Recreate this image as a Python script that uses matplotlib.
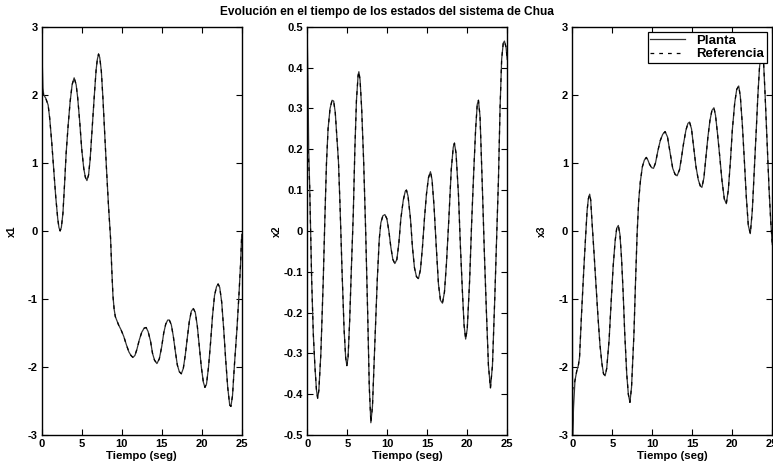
import numpy as np
import matplotlib
matplotlib.use('Agg')
import matplotlib.pyplot as plt

plt.rcParams['font.family'] = ['Liberation Sans', 'DejaVu Sans']
plt.rcParams['font.weight'] = 'bold'
plt.rcParams['axes.unicode_minus'] = False

# x1 - referencia (tiempo, valor)
t1 = [0.0, 0.25, 0.5, 0.8, 1.0, 1.25, 1.5, 1.75, 2.0, 2.15, 2.3, 2.45, 2.65, 2.85, 3.05, 3.3,
      3.55, 3.8, 4.05, 4.3, 4.5, 4.75, 5.0, 5.25, 5.45, 5.65, 5.85, 6.05, 6.3, 6.55, 6.8, 6.95,
      7.1, 7.25, 7.45, 7.65, 7.85, 8.1, 8.35, 8.6, 8.75, 8.9, 9.05, 9.2, 9.6, 9.9, 10.25, 10.6,
      10.9, 11.15, 11.4, 11.65, 11.9, 12.2, 12.5, 12.8, 13.05, 13.3, 13.6, 13.85, 14.1, 14.4,
      14.7, 15.0, 15.25, 15.5, 15.75, 15.95, 16.2, 16.45, 16.7, 16.95, 17.2, 17.45, 17.7, 17.95,
      18.2, 18.45, 18.7, 18.95, 19.2, 19.45, 19.7, 19.95, 20.2, 20.4, 20.6, 20.85, 21.1, 21.35,
      21.6, 21.85, 22.05, 22.25, 22.5, 22.75, 23.0, 23.25, 23.5, 23.65, 23.85, 24.1, 24.4,
      24.65, 24.85, 25.0]
x1 = [2.05, 2.0, 1.95, 1.85, 1.65, 1.3, 0.9, 0.5, 0.18, 0.05, 0.0, 0.05, 0.26, 0.68, 1.14, 1.55,
      1.9, 2.15, 2.25, 2.15, 1.95, 1.6, 1.2, 0.92, 0.79, 0.74, 0.82, 1.05, 1.5, 1.95, 2.37, 2.52,
      2.6, 2.55, 2.35, 1.95, 1.48, 0.9, 0.36, -0.1, -0.55, -0.95, -1.15, -1.26, -1.38, -1.45,
      -1.55, -1.68, -1.78, -1.83, -1.86, -1.83, -1.74, -1.6, -1.49, -1.43, -1.42, -1.48, -1.62,
      -1.8, -1.9, -1.95, -1.88, -1.7, -1.5, -1.37, -1.31, -1.31, -1.38, -1.55, -1.77, -1.97,
      -2.07, -2.1, -2.02, -1.82, -1.57, -1.33, -1.18, -1.14, -1.2, -1.4, -1.7, -2.0, -2.22, -2.3,
      -2.25, -2.0, -1.65, -1.25, -0.95, -0.82, -0.78, -0.83, -1.05, -1.45, -1.9, -2.3, -2.56,
      -2.58, -2.42, -1.95, -1.45, -0.95, -0.5, -0.05]
# x1 - planta, arranque distinto
t1_ini = [0.0, 0.06, 0.15]
x1_ini = [0.72, 2.5, 2.1]

# x2 - referencia
t2 = [0.0, 0.15, 0.3, 0.55, 0.75, 0.95, 1.15, 1.3, 1.45, 1.7, 2.0, 2.2, 2.4, 2.6, 2.85, 3.1,
      3.3, 3.5, 3.7, 3.9, 4.1, 4.35, 4.6, 4.8, 4.95, 5.1, 5.3, 5.5, 5.75, 5.95, 6.15, 6.35,
      6.45, 6.6, 6.8, 7.05, 7.3, 7.55, 7.75, 7.95, 8.15, 8.4, 8.75, 9.0, 9.2, 9.45, 9.7, 9.95,
      10.2, 10.45, 10.7, 10.95, 11.2, 11.45, 11.7, 12.0, 12.25, 12.4, 12.6, 12.9, 13.15, 13.4,
      13.65, 13.9, 14.15, 14.4, 14.65, 14.9, 15.15, 15.4, 15.6, 15.85, 16.1, 16.4, 16.65, 16.9,
      17.15, 17.4, 17.7, 18.0, 18.25, 18.4, 18.6, 18.9, 19.15, 19.4, 19.6, 19.8, 20.0, 20.3,
      20.55, 20.8, 21.05, 21.25, 21.4, 21.6, 21.9, 22.15, 22.4, 22.65, 22.9, 23.15, 23.45,
      23.7, 23.9, 24.1, 24.3, 24.5, 24.65, 24.85, 25.0]
x2 = [0.22, 0.18, 0.11, -0.12, -0.25, -0.33, -0.39, -0.41, -0.39, -0.3, -0.12, 0.03, 0.165,
      0.25, 0.3, 0.32, 0.318, 0.29, 0.23, 0.17, 0.06, -0.1, -0.24, -0.31, -0.33, -0.31, -0.22,
      -0.1, 0.04, 0.2, 0.32, 0.38, 0.39, 0.37, 0.3, 0.17, 0.0, -0.2, -0.38, -0.47, -0.43, -0.3,
      -0.12, -0.02, 0.02, 0.037, 0.04, 0.03, 0.0, -0.04, -0.07, -0.08, -0.07, -0.03, 0.03,
      0.075, 0.097, 0.1, 0.085, 0.03, -0.04, -0.09, -0.112, -0.117, -0.095, -0.04, 0.03, 0.09,
      0.13, 0.145, 0.125, 0.06, -0.03, -0.13, -0.17, -0.177, -0.15, -0.08, 0.03, 0.15, 0.205,
      0.215, 0.19, 0.09, -0.04, -0.15, -0.23, -0.265, -0.24, -0.12, 0.02, 0.14, 0.25, 0.31,
      0.32, 0.28, 0.1, -0.06, -0.2, -0.33, -0.385, -0.33, -0.16, 0.0, 0.125, 0.3, 0.42, 0.46,
      0.465, 0.45, 0.42]
t2_ini = [0.0, 0.08, 0.18]
x2_ini = [0.47, 0.38, 0.2]

# x3 - referencia
t3 = [0.0, 0.33, 0.55, 0.75, 0.9, 1.15, 1.45, 1.7, 1.85, 2.0, 2.17, 2.3, 2.45, 2.7, 2.95, 3.2,
      3.45, 3.7, 3.9, 4.1, 4.3, 4.6, 4.85, 5.1, 5.35, 5.55, 5.75, 5.95, 6.15, 6.35, 6.55, 6.8,
      7.0, 7.2, 7.4, 7.7, 7.9, 8.1, 8.3, 8.5, 8.75, 9.0, 9.25, 9.45, 9.65, 9.9, 10.15, 10.4,
      10.7, 11.0, 11.3, 11.6, 11.9, 12.25, 12.55, 12.85, 13.1, 13.4, 13.65, 13.9, 14.2, 14.45,
      14.65, 14.9, 15.15, 15.45, 15.75, 16.0, 16.2, 16.45, 16.7, 16.95, 17.2, 17.45, 17.7,
      17.9, 18.15, 18.4, 18.7, 19.0, 19.25, 19.5, 19.75, 20.0, 20.3, 20.55, 20.8, 21.0, 21.25,
      21.5, 21.75, 22.0, 22.25, 22.5, 22.75, 23.0, 23.2, 23.4, 23.6, 23.75, 23.9, 24.1, 24.35,
      24.6, 24.8, 25.0]
x3 = [-2.35, -2.2, -2.06, -1.98, -1.86, -1.22, -0.53, 0.0, 0.3, 0.47, 0.54, 0.45, 0.15, -0.3,
      -0.78, -1.25, -1.67, -1.95, -2.1, -2.13, -2.02, -1.6, -1.05, -0.53, -0.15, 0.04, 0.08,
      -0.05, -0.4, -0.9, -1.5, -2.1, -2.4, -2.52, -2.3, -1.52, -0.75, -0.04, 0.45, 0.72, 0.94,
      1.04, 1.08, 1.04, 0.98, 0.93, 0.92, 1.0, 1.18, 1.33, 1.42, 1.46, 1.38, 1.13, 0.92, 0.83,
      0.81, 0.9, 1.08, 1.28, 1.48, 1.58, 1.6, 1.5, 1.25, 0.95, 0.75, 0.66, 0.64, 0.78, 1.08,
      1.38, 1.62, 1.77, 1.81, 1.7, 1.43, 1.13, 0.75, 0.47, 0.4, 0.6, 1.0, 1.48, 1.88, 2.08,
      2.13, 1.98, 1.57, 1.05, 0.5, 0.08, -0.04, 0.3, 0.9, 1.5, 2.0, 2.4, 2.62, 2.65, 2.5, 2.0,
      1.3, 0.6, 0.15, -0.2]
t3_ini = [0.0, 0.04, 0.15]
x3_ini = [-0.7, -3.0, -2.6]

series = [
    (t1, x1, t1_ini, x1_ini, 'x1', [3, 2, 1, 0, -1, -2, -3], ['3', '2', '1', '0', '-1', '-2', '-3'], (-3, 3)),
    (t2, x2, t2_ini, x2_ini, 'x2',
     [0.5, 0.4, 0.3, 0.2, 0.1, 0, -0.1, -0.2, -0.3, -0.4, -0.5],
     ['0.5', '0.4', '0.3', '0.2', '0.1', '0', '-0.1', '-0.2', '-0.3', '-0.4', '-0.5'], (-0.5, 0.5)),
    (t3, x3, t3_ini, x3_ini, 'x3', [3, 2, 1, 0, -1, -2, -3], ['3', '2', '1', '0', '-1', '-2', '-3'], (-3, 3)),
]

fig = plt.figure(figsize=(7.73, 4.66), dpi=100)
lefts = [0.054, 0.3975, 0.7404]

for i, (t, x, ti, xi, nombre, yt, ytl, ylim) in enumerate(series):
    ax = fig.add_axes([lefts[i], 0.0665, 0.2587, 0.876])
    # planta = arranque propio + referencia
    tp = ti + [v for v in t if v > ti[-1]]
    xp = xi + [x[k] for k in range(len(t)) if t[k] > ti[-1]]
    ax.plot(tp, xp, '-', color='#333333', lw=0.9, label='Planta')
    ax.plot(t, x, '--', color='black', lw=0.9, dashes=(3, 4), label='Referencia')
    ax.set_xlim(0, 25)
    ax.set_ylim(*ylim)
    ax.set_xticks([0, 5, 10, 15, 20, 25])
    ax.set_yticks(yt)
    ax.set_yticklabels(ytl)
    ax.tick_params(direction='in', top=True, right=True, length=4, width=0.8,
                   labelsize=8, pad=3)
    for s in ax.spines.values():
        s.set_linewidth(1.0)
    ax.set_xlabel('Tiempo (seg)', fontsize=8.2, fontweight='bold', labelpad=1)
    ax.set_ylabel(nombre, fontsize=7.5, fontweight='bold')
    ax.yaxis.set_label_coords(-0.125, 0.5)
    if i == 2:
        leg = ax.legend(loc='upper right', bbox_to_anchor=(0.974, 0.988), fontsize=9.5,
                        frameon=True, fancybox=False, edgecolor='black', framealpha=1,
                        handlelength=2.6, handletextpad=0.9, borderpad=0.2,
                        labelspacing=0.1, borderaxespad=0.0)
        leg.get_frame().set_linewidth(0.9)

fig.suptitle('Evolución en el tiempo de los estados del sistema de Chua',
             fontsize=8.6, fontweight='bold', y=0.988)

fig.savefig('out.png', dpi=100)
